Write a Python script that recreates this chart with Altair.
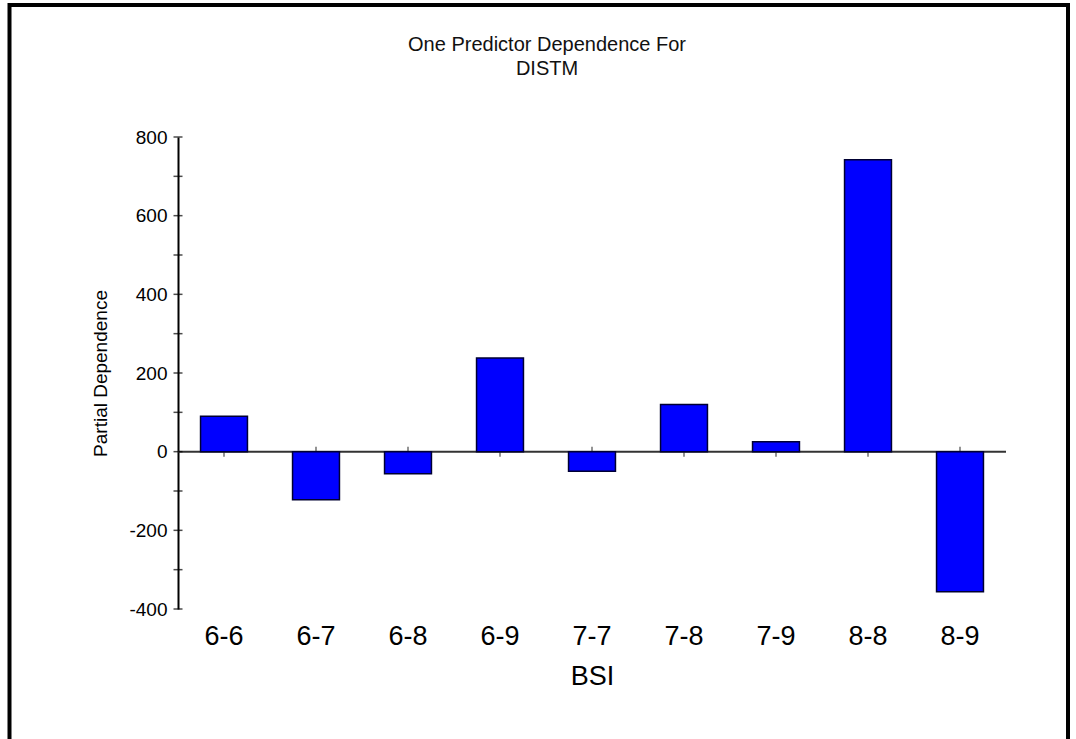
import altair as alt
import pandas as pd

# Partial dependence of DISTM on each BSI pair
categories = ["6-6", "6-7", "6-8", "6-9", "7-7", "7-8", "7-9", "8-8", "8-9"]
values = [90, -122, -56, 238, -50, 120, 25, 742, -356]

# y axis: labelled ticks every 200, plain ticks every 100
y_labels = [-400, -200, 0, 200, 400, 600, 800]
y_ticks = [-400, -300, -200, -100, 0, 100, 200, 300, 400, 500, 600, 700, 800]

title_lines = ["One Predictor Dependence For", "DISTM"]

FONT = "Liberation Sans"

bars_df = pd.DataFrame({"BSI": categories, "dep": values})
yticks_df = pd.DataFrame({"dep": y_ticks})
zero_df = pd.DataFrame({"dep": [0]})
xticks_df = pd.DataFrame({"BSI": categories, "dep": [0] * len(categories)})
frame_df = pd.DataFrame({"k": [0]})

x_scale = alt.Scale(domain=categories, paddingInner=0.49, paddingOuter=0.245)
y_scale = alt.Scale(domain=[-400, 800], nice=False, zero=False)

x_enc = alt.X(
    "BSI:N",
    sort=categories,
    scale=x_scale,
    axis=alt.Axis(
        title="BSI",
        domain=False,
        ticks=False,
        labelAngle=0,
        labelFontSize=27,
        labelPadding=14,
        labelColor="black",
        titleFontSize=27,
        titleFontWeight="normal",
        titleColor="black",
        titlePadding=14,
    ),
)
y_enc = alt.Y(
    "dep:Q",
    scale=y_scale,
    axis=alt.Axis(
        title="Partial Dependence",
        values=y_labels,
        labelExpr="'' + datum.value",
        ticks=False,
        grid=False,
        domainColor="black",
        domainWidth=2,
        labelFontSize=19,
        labelPadding=11,
        labelColor="black",
        titleFontSize=19,
        titleFontWeight="normal",
        titleColor="black",
        titlePadding=18,
    ),
)

# Ticks that cross the y axis line
y_tick_marks = alt.Chart(yticks_df).mark_tick(
    orient="horizontal", size=9, thickness=1.5, color="black"
).encode(y=y_enc, x=alt.value(0))

# Zero baseline across the plot
zero_line = alt.Chart(zero_df).mark_rule(color="#333333", strokeWidth=2).encode(y=y_enc)

# Category ticks on the zero line
x_tick_marks = alt.Chart(xticks_df).mark_tick(
    orient="vertical", size=10, thickness=1.5, color="#333333"
).encode(x=x_enc, y=y_enc)

bars = alt.Chart(bars_df).mark_bar(
    color="#0000FF", stroke="#000033", strokeWidth=1.5
).encode(x=x_enc, y=y_enc)

# Two-line heading above the plot
heading_layers = [
    alt.Chart(pd.DataFrame({"line": [text]})).mark_text(
        font=FONT, fontSize=20, color="#111111", align="center", baseline="middle"
    ).encode(text="line:N", x=alt.value(369), y=alt.value(-92 + i * 24))
    for i, text in enumerate(title_lines)
]

# Outer frame around the figure
frame = alt.Chart(frame_df).mark_rect(
    fill=None, filled=False, stroke="black", strokeWidth=4
).encode(
    x=alt.value(-168.5), x2=alt.value(890), y=alt.value(-132), y2=alt.value(640)
)

chart = (
    alt.layer(frame, *heading_layers, zero_line, y_tick_marks, x_tick_marks, bars)
    .properties(
        width=828,
        height=472,
        autosize=alt.AutoSizeParams(type="none"),
        padding={"left": 178, "top": 137, "right": 70, "bottom": 130},
        background="white",
    )
    .configure(font=FONT)
    .configure_view(stroke=None)
    .configure_axis(labelFont=FONT, titleFont=FONT)
)

chart.save("out.html", embed_options={"renderer": "svg", "actions": False})
